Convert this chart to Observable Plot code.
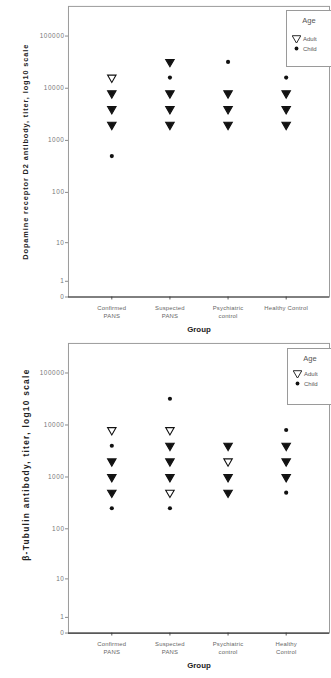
<!DOCTYPE html>
<html>
<head>
<meta charset="utf-8">
<script src="https://cdn.jsdelivr.net/npm/d3@7"></script>
<script src="https://cdn.jsdelivr.net/npm/@observablehq/plot@0.6"></script>
<style>
  html, body { margin: 0; padding: 0; background: #fff; overflow: hidden; width: 331px; height: 678px; }
  .panel { position: relative; width: 331px; overflow: hidden; }
  .panel svg { display: block; }
  g[aria-label="y-axis tick label"] text { letter-spacing: 0.6px; }
  g[aria-label="x-axis tick label"] text { letter-spacing: 0.2px; }
  .legend {
    position: absolute; box-sizing: border-box; width: 52px; height: 57px;
    border: 1px solid #9a9a9a; background: #fff;
    font-family: "Liberation Sans", Arial, sans-serif; color: #555;
  }
  .legend .title { position: absolute; left: 0; width: 44px; text-align: center; font-size: 7.5px; }
  .legend .row { position: absolute; left: 5px; height: 9px; display: flex; align-items: center; font-size: 6px; }
  .legend .row svg { margin-right: 2px; }
</style>
</head>
<body>
<div id="chart"></div>
<script>
// Groups on the x axis and their two-line tick labels
const groups = ["Confirmed PANS", "Suspected PANS", "Psychiatric control", "Healthy Control"];
const tickLabelsTop = ["Confirmed\nPANS", "Suspected\nPANS", "Psychiatric\ncontrol", "Healthy Control"];
const tickLabelsBottom = ["Confirmed\nPANS", "Suspected\nPANS", "Psychiatric\ncontrol", "Healthy\nControl"];

// Titer tick values on the log10(x+1) axis
const yTicks = [0, 1, 10, 100, 1000, 10000, 100000];

// Dopamine receptor D2 antibody titers, one list per group
const d2Adult = [
  [16000, 8000, 4000, 2000],
  [32000, 8000, 4000, 2000],
  [8000, 4000, 2000],
  [8000, 4000, 2000]
];
const d2Child = [
  [8000, 4000, 2000, 500],
  [32000, 16000, 8000, 4000, 2000],
  [32000, 8000, 4000, 2000],
  [16000, 8000, 4000, 2000]
];

// β-Tubulin antibody titers, one list per group
const tubAdult = [
  [8000, 2000, 1000, 500],
  [8000, 4000, 2000, 1000, 500],
  [4000, 2000, 1000, 500],
  [4000, 2000, 1000]
];
const tubChild = [
  [4000, 2000, 1000, 500, 250],
  [32000, 4000, 2000, 1000, 250],
  [4000, 1000, 500],
  [8000, 4000, 2000, 1000, 500]
];

const font = "Liberation Sans, Arial, sans-serif";

// Flatten the per-group lists; an adult titer that a child shares is drawn as a dark, overlapped marker
function toRows(adult, child) {
  const rows = [];
  groups.forEach((g, i) => {
    adult[i].forEach(v => rows.push({group: g, titer: v, age: "Adult", shared: child[i].includes(v)}));
    child[i].forEach(v => rows.push({group: g, titer: v, age: "Child", shared: adult[i].includes(v)}));
  });
  return rows;
}

function makePanel({adult, child, yLabel, yLabelDy, yLabelSize, yLabelSpacing, tickLabels, height, marginTop, marginBottom, legend}) {
  const rows = toRows(adult, child);
  const plot = Plot.plot({
    width: 336,
    height,
    marginLeft: 69,
    marginRight: 2,
    marginTop,
    marginBottom,
    style: {fontFamily: font, background: "#fff", overflow: "visible"},
    x: {type: "point", domain: groups, padding: 0.72},
    y: {type: "symlog", constant: 1, domain: [0, 370000]},
    marks: [
      Plot.frame({stroke: "#9a9a9a"}),
      Plot.axisY({
        ticks: yTicks, tickFormat: d => String(d), tickSize: 3, tickPadding: 1,
        fontSize: 6.5, fill: "#777", stroke: "#888", label: null
      }),
      Plot.axisX({
        tickFormat: d => tickLabels[groups.indexOf(d)], tickSize: 3, tickPadding: 5,
        fontSize: 6, lineHeight: 1.25, fill: "#666", stroke: "#555", label: null
      }),
      Plot.ruleY([0], {stroke: "#333", strokeWidth: 1.2}),
      Plot.dot(rows.filter(d => d.age === "Adult"), {
        x: "group", y: "titer", symbol: "triangle", rotate: 180, r: 3.2,
        stroke: "#111", strokeWidth: 1.1, fill: d => d.shared ? "#1a1a1a" : "#fff"
      }),
      Plot.dot(rows.filter(d => d.age === "Child"), {
        x: "group", y: "titer", symbol: "circle", r: 2.1, fill: "#111", stroke: "none"
      }),
      Plot.text([yLabel], {
        frameAnchor: "left", dx: -43, dy: yLabelDy, rotate: -90, text: d => d,
        textAnchor: "middle", lineAnchor: "middle", fontSize: yLabelSize, fontWeight: "bold", fill: "#222"
      }),
      Plot.text(["Group"], {
        frameAnchor: "bottom", dy: 33, text: d => d, textAnchor: "middle", lineAnchor: "middle",
        fontSize: 8, fontWeight: "bold", fill: "#222"
      })
    ]
  });
  d3.select(plot).selectAll("text")
    .filter(function() { return this.textContent === yLabel; })
    .style("letter-spacing", yLabelSpacing + "px");

  const wrap = document.createElement("div");
  wrap.className = "panel";
  wrap.style.height = height + "px";
  wrap.appendChild(plot);

  // Age legend box inside the frame's top-right corner
  const box = document.createElement("div");
  box.className = "legend";
  box.style.left = legend.left + "px";
  box.style.top = legend.top + "px";
  const title = document.createElement("div");
  title.className = "title";
  title.style.top = (legend.titleY - 5) + "px";
  title.textContent = "Age";
  box.appendChild(title);
  [["Adult", legend.adultY], ["Child", legend.childY]].forEach(([name, y]) => {
    const row = document.createElement("div");
    row.className = "row";
    row.style.top = (y - 5) + "px";
    const sw = d3.create("svg").attr("width", 9).attr("height", 9);
    if (name === "Adult") {
      sw.append("path")
        .attr("d", d3.symbol(d3.symbolTriangle, 32)())
        .attr("transform", "translate(4.5,4.2) rotate(180)")
        .attr("fill", "#fff").attr("stroke", "#111").attr("stroke-width", 0.9);
    } else {
      sw.append("circle").attr("cx", 4.5).attr("cy", 4.5).attr("r", 1.9).attr("fill", "#111");
    }
    row.appendChild(sw.node());
    row.appendChild(document.createTextNode(name));
    box.appendChild(row);
  });
  wrap.appendChild(box);
  return wrap;
}

const chart = document.getElementById("chart");
chart.appendChild(makePanel({
  adult: d2Adult, child: d2Child,
  yLabel: "Dopamine receptor D2 antibody, titer, log10 scale",
  yLabelDy: 0, yLabelSize: 7.5, yLabelSpacing: 0.9,
  tickLabels: tickLabelsTop,
  height: 339, marginTop: 6, marginBottom: 38,
  legend: {left: 286, top: 10, titleY: 10, adultY: 28, childY: 38}
}));
chart.appendChild(makePanel({
  adult: tubAdult, child: tubChild,
  yLabel: "β-Tubulin antibody, titer, log10 scale",
  yLabelDy: -24, yLabelSize: 8.5, yLabelSpacing: 1.3,
  tickLabels: tickLabelsBottom,
  height: 339, marginTop: 4, marginBottom: 41,
  legend: {left: 287, top: 9, titleY: 10, adultY: 25, childY: 35}
}));
</script>
</body>
</html>
